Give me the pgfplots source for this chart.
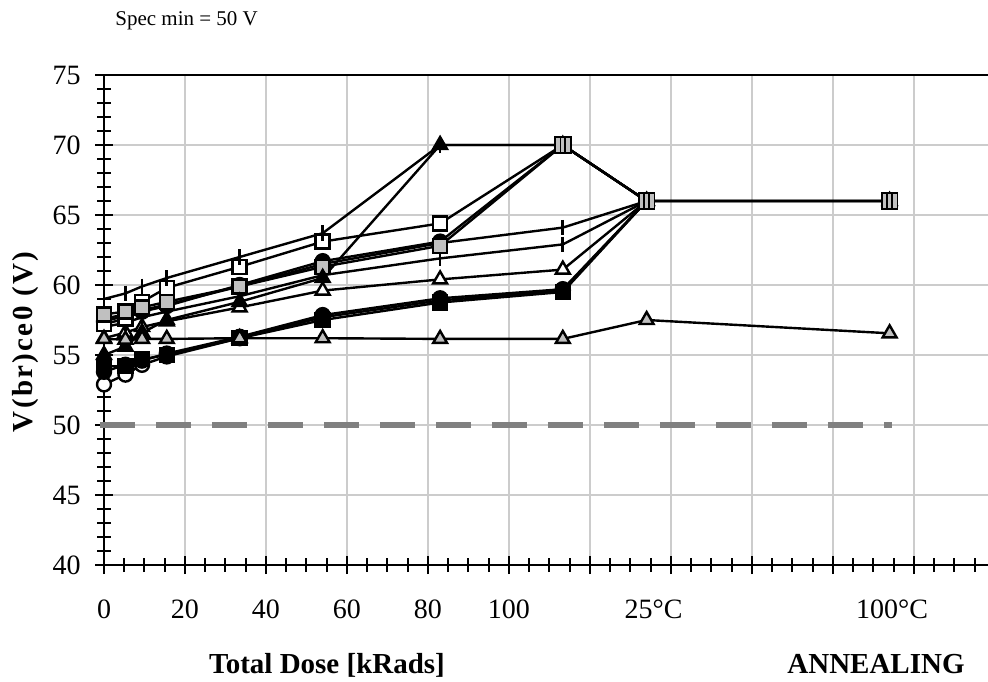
\documentclass[border=0pt]{standalone}
\usepackage{fontspec}
\setmainfont{Liberation Serif}
\newfontfamily\ylabfont[LetterSpace=8]{Liberation Serif}
\usepackage{pgfplots}
\pgfplotsset{compat=1.18}
\usetikzlibrary{plotmarks}
\definecolor{silver}{RGB}{192,192,192}
\definecolor{gridc}{RGB}{204,204,204}
\definecolor{specc}{RGB}{128,128,128}
\pgfdeclareplotmark{sqII}{%
  \pgfpathrectangle{\pgfpoint{-\pgfplotmarksize}{-\pgfplotmarksize}}{\pgfpoint{2\pgfplotmarksize}{2\pgfplotmarksize}}%
  \pgfusepathqfillstroke
  \pgfpathmoveto{\pgfpoint{-0.3\pgfplotmarksize}{-\pgfplotmarksize}}%
  \pgfpathlineto{\pgfpoint{-0.3\pgfplotmarksize}{\pgfplotmarksize}}%
  \pgfpathmoveto{\pgfpoint{0.3\pgfplotmarksize}{-\pgfplotmarksize}}%
  \pgfpathlineto{\pgfpoint{0.3\pgfplotmarksize}{\pgfplotmarksize}}%
  \pgfusepathqstroke
}
\pgfplotsset{
  ser/.style={black, line width=1.2pt, mark size=3.5pt, mark options={solid, line width=0.9pt}},
  plusser/.style={black, line width=1.2pt, mark=|, mark size=3.9pt, mark options={solid, line width=1.35pt}},
}
\begin{document}
\begin{tikzpicture}
\begin{axis}[
  name=ax,
  scale only axis, width=442pt, height=245pt,
  xmin=0, xmax=218.3, ymin=40, ymax=75,
  axis x line*=bottom, axis y line*=left,
  xtick={0,20,...,200}, xticklabels={0,20,40,60,80,100,,,,,},
  minor xtick={0,5,...,215},
  ytick={40,45,...,75}, yticklabels={40,45,50,55,60,65,70,75},
  minor ytick={40,41,...,75},
  extra x ticks={135.7,194.6}, extra x tick labels={25°C,100°C},
  extra x tick style={grid=none, tick style={draw=none}},
  grid=major, major grid style={gridc, line width=0.7pt},
  tick align=center, major tick length=9pt, minor tick length=7pt,
  every tick/.style={black, line width=1pt},
  axis line style={black, line width=1.3pt},
  tick label style={font=\fontsize{14}{16}\selectfont},
  xticklabel style={anchor=center, yshift=-17.5pt},
  yticklabel style={anchor=east, inner sep=0pt, xshift=-7pt},
  /pgf/number format/assume math mode=true,
  clip=false,
]
% spec line
\addplot[specc, line width=2.75pt, dash pattern=on 17.5pt off 10.5pt] coordinates {(-1,50)(194.5,50)};
% open circle
\addplot[ser, mark=*, mark options={fill=white}] coordinates {(0,52.9)(5.3,53.6)(9.4,54.3)(15.5,54.9)(33.5,56.2)(54,57.7)(83,58.9)(113.3,59.6)(134,66)};
% black circle lower
\addplot[ser, mark=*, mark options={fill=black}] coordinates {(0,53.8)(5.3,54.3)(9.4,54.6)(15.5,55.1)(33.5,56.3)(54,57.85)(83,59.05)(113.3,59.7)(134,66)};
% black square
\addplot[ser, mark=square*, mark options={fill=black}] coordinates {(0,54.2)(5.3,54.2)(9.4,54.7)(15.5,55.0)(33.5,56.2)(54,57.5)(83,58.75)(113.3,59.5)(134,66)};
% open triangle
\addplot[ser, mark=triangle*, mark size=4pt, mark options={fill=white}] coordinates {(0,56.2)(5.3,56.6)(9.4,57.0)(15.5,57.4)(33.5,58.4)(54,59.6)(83,60.4)(113.3,61.1)(134,66)};
% plus lower
\addplot[plusser] coordinates {(0,57.0)(5.3,57.3)(9.4,57.7)(15.5,58.1)(33.5,59.2)(54,60.7)(83,61.9)(113.3,62.9)(134,66)};
% plus mid
\addplot[plusser] coordinates {(0,57.6)(5.3,57.9)(9.4,58.2)(15.5,58.6)(33.5,59.9)(54,61.5)(83,63.0)(113.3,64.1)(134,66)};
% black circle upper
\addplot[ser, mark=*, mark options={fill=black}] coordinates {(0,57.4)(5.3,57.8)(9.4,58.1)(15.5,58.5)(33.5,60.0)(54,61.7)(83,63.1)(113.3,70)(134,66)(194,66)};
% open square
\addplot[ser, mark=square*, mark options={fill=white}] coordinates {(0,57.2)(5.3,57.6)(9.4,58.8)(15.5,59.8)(33.5,61.3)(54,63.1)(83,64.4)(113.3,70)(134,66)(194,66)};
% gray square
\addplot[ser, mark=square*, mark options={fill=silver}] coordinates {(0,57.9)(5.3,58.1)(9.4,58.4)(15.5,58.8)(33.5,59.9)(54,61.3)(83,62.8)(113.3,70)(134,66)(194,66)};
% plus upper
\addplot[plusser] coordinates {(0,59.0)(5.3,59.4)(9.4,59.9)(15.5,60.5)(33.5,62.0)(54,63.7)(83,70)(113.3,70)(134,66)(194,66)};
% black triangle
\addplot[ser, mark=triangle*, mark size=4pt, mark options={fill=black}] coordinates {(0,55.0)(5.3,55.6)(9.4,56.6)(15.5,57.5)(33.5,58.8)(54,60.5)(83,70)(113.3,70)(134,66)(194,66)};
% gray triangle
\addplot[ser, mark=triangle*, mark size=4pt, mark options={fill=silver}] coordinates {(0,56.15)(5.3,56.1)(9.4,56.15)(15.5,56.15)(33.5,56.2)(54,56.2)(83,56.15)(113.3,56.15)(134,57.5)(194,56.55)};
% overlapping squares
\addplot[only marks, mark=sqII, mark size=3.9pt, mark options={fill=silver, draw=black, line width=0.9pt}] coordinates {(113.3,70)(134,66)(194,66)};
\end{axis}
\draw[black, line width=1.3pt] (ax.north west) -- (ax.north east);
\node[anchor=base west, inner sep=0pt, font=\fontsize{10.5}{12}\selectfont] at ([shift={(5.5pt,269.5pt)}]ax.south west) {Spec min = 50 V};
\node[anchor=base, inner sep=0pt, font=\bfseries\fontsize{14.5}{16}\selectfont] at ([shift={(111.5pt,-54pt)}]ax.south west) {Total Dose [kRads]};
\node[anchor=base, inner sep=0pt, font=\bfseries\fontsize{14.5}{16}\selectfont] at ([shift={(386pt,-54pt)}]ax.south west) {ANNEALING};
\node[anchor=base, inner sep=0pt, rotate=90, font=\ylabfont\bfseries\fontsize{14.5}{16}\selectfont] at ([shift={(-35.5pt,111.5pt)}]ax.south west) {V(br)ce0 (V)};
\pgfresetboundingbox
\path ([shift={(-52pt,-58pt)}]ax.south west) rectangle ([shift={(442pt,282.5pt)}]ax.south west);
\end{tikzpicture}
\end{document}
